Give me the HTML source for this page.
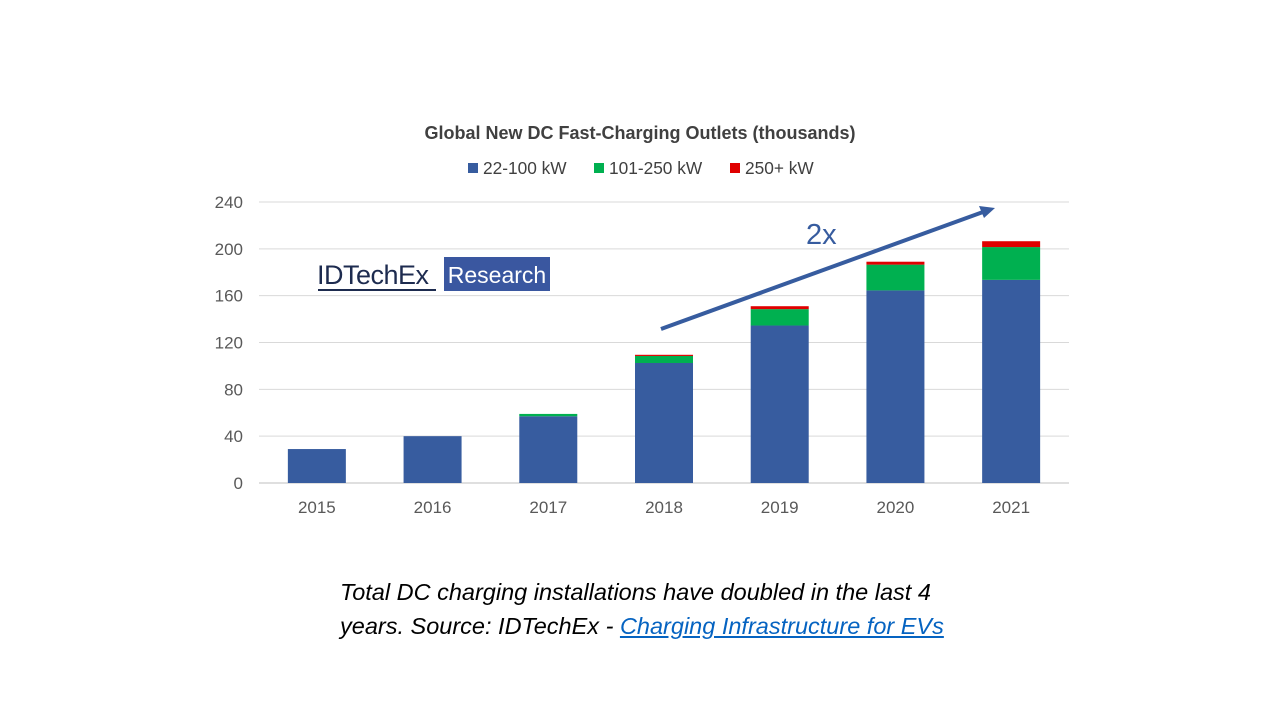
<!DOCTYPE html>
<html><head><meta charset="utf-8"><style>
body{margin:0;background:#fff;font-family:"Liberation Sans",sans-serif;}
#wrap{position:relative;width:1280px;height:720px;overflow:hidden;}
.caption{position:absolute;left:340px;width:900px;text-align:left;top:575px;font-size:23.5px;font-style:italic;line-height:34px;color:#000;}
.caption a{color:#0563c1;text-decoration:underline;}
</style></head><body>
<div id="wrap">
<svg id="chart" width="1280" height="720" style="position:absolute;left:0;top:0">
<text x="640" y="139" text-anchor="middle" font-size="18" font-weight="bold" fill="#404040">Global New DC Fast-Charging Outlets (thousands)</text>
<g>
<rect x="468" y="163" width="10" height="10" fill="#375c9f"/>
<text x="483" y="174" font-size="17.3" fill="#404040">22-100 kW</text>
<rect x="594" y="163" width="10" height="10" fill="#00b050"/>
<text x="609" y="174" font-size="17.3" fill="#404040">101-250 kW</text>
<rect x="730" y="163" width="10" height="10" fill="#e00000"/>
<text x="745" y="174" font-size="17.3" fill="#404040">250+ kW</text>
</g>
<g id="grid"></g><g id="bars"></g><g id="xt"></g>
<g>
<text x="317" y="284" font-size="27" fill="#1d2b4f" letter-spacing="-0.5">IDTechEx</text>
<line x1="318" y1="290" x2="436" y2="290" stroke="#1d2b4f" stroke-width="2"/>
<rect x="444" y="257" width="106" height="34" fill="#3a57a0"/>
<text x="497" y="283" text-anchor="middle" font-size="23" fill="#fff">Research</text>
</g>
<g>
<line x1="661" y1="329" x2="983" y2="212" stroke="#375c9f" stroke-width="4"/>
<polygon points="995,208 979,206 984,218" fill="#375c9f"/>
<text x="806" y="244" font-size="29" fill="#375c9f">2x</text>
</g>
</svg>
<div class="caption">Total DC charging installations have doubled in the last 4<br>years. Source: IDTechEx - <a>Charging Infrastructure for EVs</a></div>
</div>
<script>
const years=["2015","2016","2017","2018","2019","2020","2021"];
const low=[29,40,57,102.5,134.5,164.5,173.5];
const mid=[0,0,2,6,14,22,28];
const high=[0,0,0,1,2.5,2.5,5];
const yTicks=[0,40,80,120,160,200,240];
const NS="http://www.w3.org/2000/svg";
const x0=259,x1=1069,yBase=483,yTop=202,yMax=240;
const y=v=>yBase-(v/yMax)*(yBase-yTop);
const step=(x1-x0)/years.length;
const xc=i=>x0+step*(i+0.5);
const bw=58;
function mk(t,a,p){const e=document.createElementNS(NS,t);for(const k in a)e.setAttribute(k,a[k]);p.appendChild(e);return e;}
const grid=document.getElementById('grid');
yTicks.forEach(t=>{
 const l=mk('line',{x1:x0,x2:x1,y1:y(t),y2:y(t),stroke:t===0?'#bfbfbf':'#d9d9d9','stroke-width':1},grid);
 
 
 const tx=mk('text',{x:243,y:y(t)+6,'text-anchor':'end','font-size':17,fill:'#595959'},grid);
 tx.textContent=t;
 
 
});
const bars=document.getElementById('bars'),xt=document.getElementById('xt');
years.forEach((yr,i)=>{
 const cx=xc(i);let b=0;
 [[low,'#375c9f','22-100'],[mid,'#00b050','101-250'],[high,'#e00000','250plus']].forEach(([arr,c,n])=>{
  const v=arr[i];if(v<=0)return;
  const r=mk('rect',{x:cx-bw/2,y:y(b+v),width:bw,height:y(b)-y(b+v),fill:c},bars);
  
  
  b+=v;
 });
 const t=mk('text',{x:cx,y:513,'text-anchor':'middle','font-size':17,fill:'#595959'},xt);
 t.textContent=yr;
 
 
});
</script>
</body></html>
